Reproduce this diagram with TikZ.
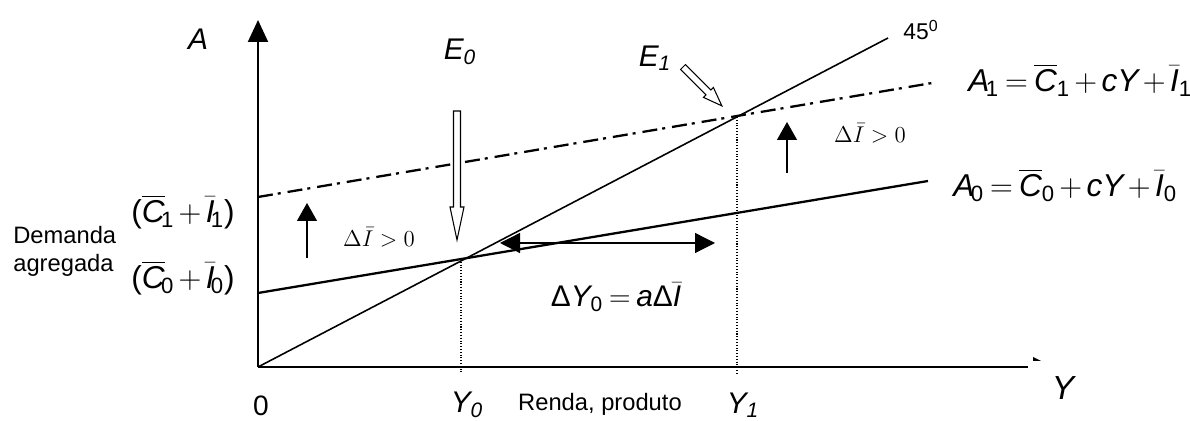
\RequirePackage{fix-cm}
\documentclass[tikz,border=0pt]{standalone}
\usepackage{amsmath}
\usepackage[no-math]{fontspec}
\setmainfont{Liberation Sans}
\usetikzlibrary{arrows.meta}
\newcommand\tightmath{\medmuskip 2.5mu\relax\thickmuskip 3.5mu\relax}

\begin{document}
\begin{tikzpicture}[x=0.02cm,y=-0.02cm,
    axis/.style={line width=1.1pt},
    curve/.style={line width=1.3pt},
    guide/.style={densely dotted,line width=0.6pt},
    shiftarrow/.style={line width=0.7pt,-{Triangle[length=0.36cm,width=0.4cm]}},
    hollow/.style={draw,fill=white,line width=0.6pt},
    lbl/.style={inner sep=0pt,font=\fontsize{17}{20}\selectfont\itshape},
    eq/.style={inner sep=0pt,font=\fontsize{18}{21}\selectfont},
    txt/.style={inner sep=0pt,font=\fontsize{13.5}{16}\selectfont}]
  \useasboundingbox (0,0) rectangle (1190,421);

  % axes
  \coordinate (O) at (258,367);
  \coordinate (Atop) at (258,20);
  \coordinate (Yend) at (1028,367);
  \draw[axis,-{Triangle[length=0.44cm,width=0.4cm]}] (O) -- (Atop);
  \draw[axis] (O) -- (Yend);
  \fill (1033,357) -- (1041,361) -- (1033,361) -- cycle;

  % 45 degree line and demand lines
  \coordinate (E0) at (461,259);
  \coordinate (E1) at (737,117);
  \coordinate (d45) at (888,38);
  \coordinate (A0s) at (258,293);
  \coordinate (A0e) at (928,181);
  \coordinate (A1s) at (258,197);
  \coordinate (A1e) at (938,82);
  \draw[line width=0.9pt] (O) -- (d45);
  \draw[curve] (A0s) -- (A0e);
  \draw[curve,dash pattern=on 0.3cm off 0.1cm on 0.06cm off 0.14cm] (A1s) -- (A1e);
  \draw[guide] (E0) -- (461,373);
  \draw[guide] (E1) -- (737,373);

  % hollow arrows to the equilibria
  \draw[hollow] (453.5,111) -- (460.5,111) -- (460.5,207) -- (464,207)
    -- (457,240) -- (450,207) -- (453.5,207) -- cycle;
  \begin{scope}[shift={(683,67)},rotate=-45]
    \draw[hollow] (0,-3.5) -- (36,-3.5) -- (36,-7) -- (55,0) -- (36,7)
      -- (36,3.5) -- (0,3.5) -- cycle;
  \end{scope}

  % shifts
  \draw[shiftarrow] (307,258) -- (307,203);
  \draw[shiftarrow] (787,173) -- (787,122);
  \draw[line width=0.7pt,{Triangle[length=0.4cm,width=0.4cm]}-{Triangle[length=0.4cm,width=0.4cm]}]
    (500,243) -- (715,243);

  % labels
  \node[lbl] (labA) at (198,39) {A};
  \node[lbl,font=\fontsize{19}{22}\selectfont\itshape] (labY) at (1063,388) {Y};
  \node[inner sep=0pt,font=\fontsize{16}{19}\selectfont] (lab0) at (261,406) {0};
  \node[lbl] (labY0) at (467,405) {Y\textsubscript{0}};
  \node[lbl] (labY1) at (743,405) {Y\textsubscript{1}};
  \node[txt] (renda) at (600,404) {Renda, produto};
  \node[lbl] (labE0) at (460,52) {E\textsubscript{0}};
  \node[lbl] (labE1) at (655,58) {E\textsubscript{1}};
  \node[inner sep=0pt,font=\fontsize{13}{15}\selectfont] (lab45) at (921,30) {45\textsuperscript{0}};
  \node[txt,align=left,anchor=west] (demanda) at (13,251) {Demanda\\agregada};
  \node[eq] (autC1) at (183,212) {$\tightmath\text{(}\overline{\textit{C}}_{\!\text{1}} + \bar{\textit{I}}_{\!\text{1}}\text{)}$};
  \node[eq] (autC0) at (183,278) {$\tightmath\text{(}\overline{\textit{C}}_{\!\text{0}} + \bar{\textit{I}}_{\!\text{0}}\text{)}$};
  \node[eq,anchor=west] (eqA1) at (968,80)
    {$\tightmath\textit{A}_{\!\text{1}} = \overline{\textit{C}}_{\text{1}} + \textit{cY} + \bar{\textit{I}}_{\text{1}}$};
  \node[eq,anchor=west] (eqA0) at (953,185)
    {$\tightmath\textit{A}_{\!\text{0}} = \overline{\textit{C}}_{\text{0}} + \textit{cY} + \bar{\textit{I}}_{\text{0}}$};
  \node[inner sep=0pt,font=\fontsize{13}{16}\selectfont] (dIleft) at (379,237) {$\Delta\bar{I} > 0$};
  \node[inner sep=0pt,font=\fontsize{13}{16}\selectfont] (dIright) at (870,133) {$\Delta\bar{I} > 0$};
  \node[eq,font=\fontsize{17}{20}\selectfont] (dY) at (616,297)
    {$\tightmath\text{Δ}\textit{Y}_{\text{0}} = \textit{a}\text{Δ}\bar{\textit{I}}$};
\end{tikzpicture}
\end{document}
